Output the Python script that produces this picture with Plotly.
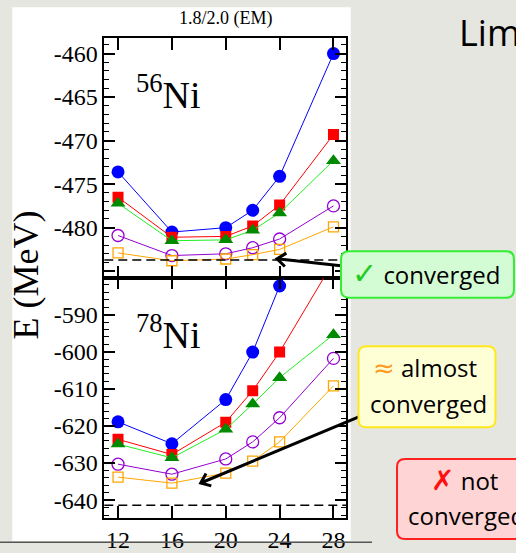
import math
import plotly.graph_objects as go

W, H = 516, 553

# ---------------- data ----------------
N_SHELL = [12, 16, 20, 22, 24, 28]

NI56_A = [-473.6, -480.5, -480.0, -478.0, -474.1, -460.0]   # filled circles
NI56_B = [-476.5, -481.1, -481.0, -479.8, -477.4, -469.3]   # filled squares
NI56_C = [-477.2, -481.5, -481.4, -480.3, -478.3, -472.3]   # filled triangles
NI56_D = [-480.9, -483.2, -483.0, -482.3, -481.3, -477.5]   # open circles
NI56_E = [-482.9, -483.8, -483.6, -483.1, -482.5, -479.9]   # open squares
NI56_CONV = -483.7

NI78_A = [-618.9, -624.8, -612.9, -600.1, -582.3, -555.0]
NI78_B = [-623.6, -627.7, -619.0, -610.5, -600.1, -575.7]
NI78_C = [-624.9, -628.6, -620.9, -614.1, -607.0, -595.4]
NI78_D = [-630.3, -633.0, -628.9, -624.3, -617.8, -601.8]
NI78_E = [-633.8, -635.4, -632.7, -629.5, -624.3, -609.2]
NI78_CONV = -641.4

X_TICKS = [12, 16, 20, 24, 28]
X_LABELS = ["12", "16", "20", "24", "28"]
Y56_TICKS = [-460, -465, -470, -475, -480, -485]
Y56_LABELS = ["-460", "-465", "-470", "-475", "-480", ""]
Y56_MINOR = [-459, -461, -462, -463, -464, -466, -467, -468, -469, -471, -472, -473, -474,
             -476, -477, -478, -479, -481, -482, -483, -484]
Y78_TICKS = [-590, -600, -610, -620, -630, -640]
Y78_LABELS = ["-590", "-600", "-610", "-620", "-630", "-640"]
Y78_MINOR = [-582, -584, -586, -588, -592, -594, -596, -598, -602, -604, -606, -608,
             -612, -614, -616, -618, -622, -624, -626, -628, -632, -634, -636, -638,
             -642, -644]

TITLE = "1.8/2.0 (EM)"
YTITLE = "E (MeV)"
LABEL56 = "<sup>56</sup>Ni"
LABEL78 = "<sup>78</sup>Ni"

# ---------------- helpers ----------------
def PX(x):
    return x / W


def PY(y):
    return 1 - y / H


def pt(x, y):
    return f"{PX(x):.5f},{PY(y):.5f}"


def rbox(x0, y0, x1, y1, r):
    return (f"M {pt(x0 + r, y0)} L {pt(x1 - r, y0)} Q {pt(x1, y0)} {pt(x1, y0 + r)} "
            f"L {pt(x1, y1 - r)} Q {pt(x1, y1)} {pt(x1 - r, y1)} "
            f"L {pt(x0 + r, y1)} Q {pt(x0, y1)} {pt(x0, y1 - r)} "
            f"L {pt(x0, y0 + r)} Q {pt(x0, y0)} {pt(x0 + r, y0)} Z")


def arrow(tail, tip, arm=11, ang=38):
    dx, dy = tail[0] - tip[0], tail[1] - tip[1]
    n = math.hypot(dx, dy)
    dx, dy = dx / n, dy / n
    a = math.radians(ang)
    arms = []
    for s in (1, -1):
        c, si = math.cos(s * a), math.sin(s * a)
        rx, ry = dx * c - dy * si, dx * si + dy * c
        arms.append((tip[0] + arm * rx, tip[1] + arm * ry))
    return (f"M {pt(*tail)} L {pt(*tip)} M {pt(*arms[0])} L {pt(*tip)} L {pt(*arms[1])}")


SERIF = "Liberation Serif, Times New Roman, serif"
SANS = "Open Sans, DejaVu Sans, sans-serif"

# ---------------- layout geometry ----------------
XL, XR = 104.3, 346.0
YT, YM, YB = 38.3, 280.7, 523.3
XDOM = [PX(XL), PX(XR)]
TOPDOM = [PY(YM), PY(YT)]
BOTDOM = [PY(YB), PY(YM)]

styles = [
    dict(line=dict(color="#0000ff", width=1), marker=dict(symbol="circle", size=13, color="#0000ff")),
    dict(line=dict(color="#ff0000", width=1), marker=dict(symbol="square", size=11, color="#ff0000")),
    dict(line=dict(color="#22ee22", width=1), marker=dict(symbol="triangle-up", size=13, color="#008a00")),
    dict(line=dict(color="#9400d3", width=1), marker=dict(symbol="circle-open", size=12, color="#9400d3", line=dict(width=1.3))),
    dict(line=dict(color="#ffa500", width=1), marker=dict(symbol="square-open", size=10, color="#ffa500", line=dict(width=1.3))),
]

fig = go.Figure()
for ys, st in zip([NI56_A, NI56_B, NI56_C, NI56_D, NI56_E], styles):
    fig.add_trace(go.Scatter(x=N_SHELL, y=ys, mode="lines+markers", xaxis="x", yaxis="y",
                             showlegend=False, hoverinfo="skip", **st))
for ys, st in zip([NI78_A, NI78_B, NI78_C, NI78_D, NI78_E], styles):
    fig.add_trace(go.Scatter(x=N_SHELL, y=ys, mode="lines+markers", xaxis="x2", yaxis="y2",
                             showlegend=False, hoverinfo="skip", **st))

tickfont = dict(family=SERIF, size=24, color="black")
common_x = dict(range=[10.98, 28.93], tickmode="array", tickvals=X_TICKS, ticktext=X_LABELS,
                ticks="inside", ticklen=12, tickwidth=1.5, tickcolor="black",
                showline=True, linecolor="black", linewidth=1.5, mirror="allticks",
                showgrid=False, zeroline=False, tickfont=tickfont, domain=XDOM)
common_y = dict(tickmode="array", ticks="inside", ticklen=11, tickwidth=1.5, tickcolor="black",
                showline=True, linecolor="black", linewidth=1.5, mirror="allticks",
                showgrid=False, zeroline=False, tickfont=tickfont)

layout = dict(
    width=W, height=H, margin=dict(l=0, r=0, t=0, b=0),
    paper_bgcolor="#e6e6e1", plot_bgcolor="rgba(0,0,0,0)",
    xaxis=dict(common_x, anchor="y", showticklabels=False),
    yaxis=dict(common_y, anchor="x", domain=TOPDOM, range=[-485.74, -458.2],
               tickvals=Y56_TICKS, ticktext=Y56_LABELS,
               minor=dict(tickmode="array", tickvals=Y56_MINOR, ticks="inside", ticklen=5,
                          tickwidth=1.2, tickcolor="black")),
    xaxis2=dict(common_x, anchor="y2"),
    yaxis2=dict(common_y, anchor="x2", domain=BOTDOM, range=[-644.7, -580.05],
                tickvals=Y78_TICKS, ticktext=Y78_LABELS,
                minor=dict(tickmode="array", tickvals=Y78_MINOR, ticks="inside", ticklen=5,
                           tickwidth=1.2, tickcolor="black")),
)
fig.update_layout(**layout)

shapes = [
    # white image area
    dict(type="rect", xref="paper", yref="paper", x0=PX(12.3), x1=PX(350.7), y0=PY(547), y1=PY(7.3),
         fillcolor="white", line=dict(width=0), layer="below"),
    # bottom rule
    dict(type="line", xref="paper", yref="paper", x0=0, x1=PX(372), y0=PY(548.3), y1=PY(548.3),
         line=dict(color="#555555", width=1.5)),
    # converged reference lines
    dict(type="line", xref="x domain", yref="y", x0=0, x1=1, y0=NI56_CONV, y1=NI56_CONV,
         line=dict(color="black", width=1.5, dash="9px,5px")),
    dict(type="line", xref="x2 domain", yref="y2", x0=0, x1=1, y0=NI78_CONV, y1=NI78_CONV,
         line=dict(color="black", width=1.5, dash="9px,5px")),
    # arrows
    dict(type="path", xref="paper", yref="paper", path=arrow((343, 269), (277, 261.7)),
         line=dict(color="black", width=3)),
    dict(type="path", xref="paper", yref="paper", path=arrow((360, 421), (200.7, 488.3)),
         line=dict(color="black", width=3)),
    # boxes
    dict(type="path", xref="paper", yref="paper", path=rbox(341, 254, 514, 301, 8),
         fillcolor="#d4fcd4", line=dict(color="#33ee33", width=2)),
    dict(type="path", xref="paper", yref="paper", path=rbox(358.5, 350, 495.5, 432, 8),
         fillcolor="#ffffd6", line=dict(color="#ffe81a", width=2)),
    dict(type="path", xref="paper", yref="paper", path=rbox(397, 464, 540, 545, 8),
         fillcolor="#ffd4d4", line=dict(color="#ff2020", width=2)),
]
fig.update_layout(shapes=shapes)

ann = []


def A(text, x, y, size, family, xanchor="center", yanchor="middle", color="black", angle=0):
    ann.append(dict(text=text, x=PX(x), y=PY(y), xref="paper", yref="paper", showarrow=False,
                    xanchor=xanchor, yanchor=yanchor, textangle=angle,
                    font=dict(family=family, size=size, color=color)))


A(TITLE, 225.5, 19, 18, SERIF)
A(YTITLE, 26, 278.5, 36, SERIF, angle=-90)
A(LABEL56, 134, 119, 38, SERIF, xanchor="left", yanchor="bottom")
A(LABEL78, 134, 362, 38, SERIF, xanchor="left", yanchor="bottom")
A("Lim", 457, 33, 36, SANS, xanchor="left")
A("<span style='color:#22cc22;font-size:30px;font-family:DejaVu Sans'>✓</span> converged", 426, 277, 24, SANS)
A("<span style='color:#ff9922;font-size:26px;font-family:DejaVu Sans'>≈</span> almost", 425, 372, 24, SANS)
A("converged", 428.5, 408, 24, SANS)
A("<span style='color:#ff1010;font-size:28px;font-family:DejaVu Sans'>✗</span> not", 464.5, 486, 24, SANS)
A("converged", 406, 521, 24, SANS, xanchor="left")
fig.update_layout(annotations=ann)

fig.write_html("out.html")
